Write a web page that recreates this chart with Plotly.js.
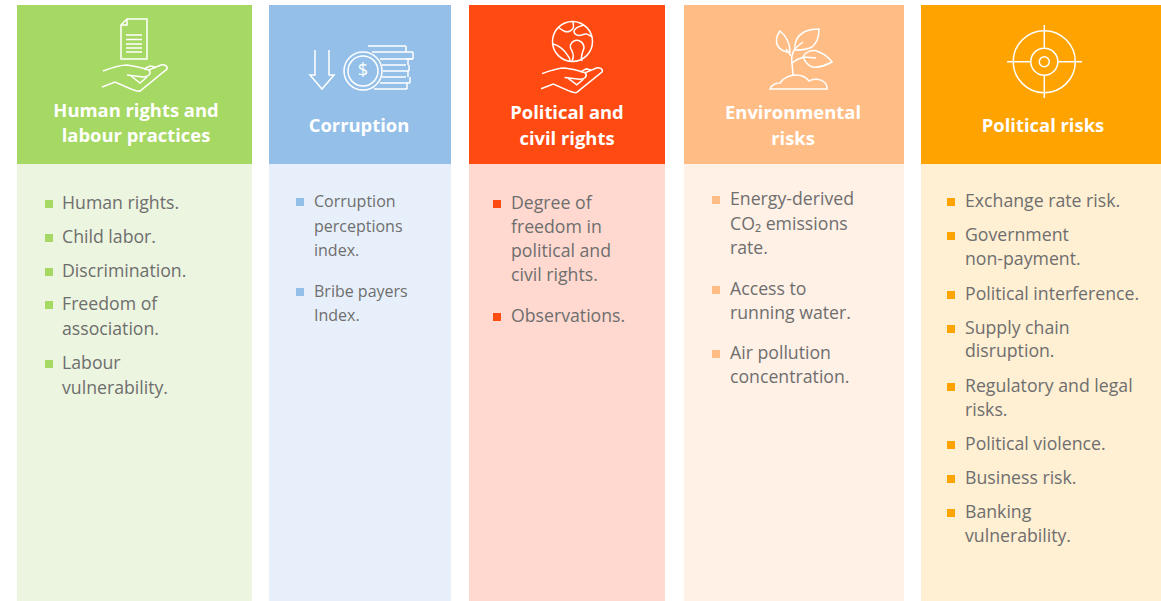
<!DOCTYPE html>
<html><head><meta charset="utf-8">
<script src="https://cdn.plot.ly/plotly-3.0.1.min.js"></script>
<style>html,body{margin:0;padding:0;background:#fff}#c{width:1161px;height:601px}</style>
</head><body><div id="c"></div>
<script>
// ---- content ----
const categories = [["Human rights and","labour practices"],["Corruption"],["Political and","civil rights"],["Environmental","risks"],["Political risks"]];
const humanRightsItems = [["Human rights."],["Child labor."],["Discrimination."],["Freedom of","association."],["Labour","vulnerability."]];
const corruptionItems = [["Corruption","perceptions","index."],["Bribe payers","Index."]];
const civilRightsItems = [["Degree of","freedom in","political and","civil rights."],["Observations."]];
const environmentItems = [["Energy-derived","CO₂ emissions","rate."],["Access to","running water."],["Air pollution","concentration."]];
const politicalRiskItems = [["Exchange rate risk."],["Government","non-payment."],["Political interference."],["Supply chain","disruption."],["Regulatory and legal","risks."],["Political violence."],["Business risk."],["Banking","vulnerability."]];
const allItems = [humanRightsItems,corruptionItems,civilRightsItems,environmentItems,politicalRiskItems];

// ---- layout in the picture's pixel scale ----
const colLeft  = [17,269,469,684,921];
const colRight = [252,451,665,904,1161];
const headerTop = 5, headerBottom = 164, bodyBottom = 601;
const headerColors = ["#a6d864","#93bfe9","#ff4b11","#ffbd85","#ffa300"];
const bodyColors   = ["#ecf5df","#e7f0fa","#ffd9cf","#fff1e6","#ffefd3"];
const headerCx = [136,359,567,793,1043];
const headerY  = [[111,136],[126],[113,139],[113,139],[126]];
const bulletX  = [49,300,497,716,951];
const textX    = [62,314,511,730,965];
const textSize = [17.7,16,17.7,17.7,17.7];
const lineY = [
  [203,237,271,304,329,363,388],
  [201,226,250,291,315],
  [203,227,251,275,316],
  [199,224,248,289,313,353,377],
  [201,235,259,294,328,351,386,410,444,478,512,536]
];
const textShift = 1.5, headerShift = 1.5;
const FONT = '"Open Sans", sans-serif';
const centers = colLeft.map((l,i)=>(l+colRight[i])/2);
const widths  = colLeft.map((l,i)=>colRight[i]-l);

const traces = [];
traces.push({type:'bar',x:centers,width:widths,base:colLeft.map(()=>headerBottom),
  y:colLeft.map(()=>bodyBottom-headerBottom),marker:{color:bodyColors,line:{width:0}},hoverinfo:'skip'});
traces.push({type:'bar',x:centers,width:widths,base:colLeft.map(()=>headerTop),
  y:colLeft.map(()=>headerBottom-headerTop),marker:{color:headerColors,line:{width:0}},hoverinfo:'skip'});

// headers
categories.forEach((lines,i)=>traces.push({type:'scatter',mode:'text',x:lines.map(()=>headerCx[i]),y:headerY[i].map(v=>v+headerShift),
  text:lines.map(s=>'<b>'+s+'</b>'),textposition:'middle center',
  textfont:{family:FONT,size:18.4,color:'#ffffff'},hoverinfo:'skip'}));

// body items and bullets
allItems.forEach((items,i)=>{
  const ys=[],ts=[],bs=[]; let k=0;
  items.forEach(lines=>{
    bs.push(lineY[i][k]+1);
    lines.forEach(t=>{ts.push(t);ys.push(lineY[i][k]+textShift);k++;});
  });
  traces.push({type:'scatter',mode:'text',x:ys.map(()=>textX[i]),y:ys,text:ts,textposition:'middle right',
    textfont:{family:FONT,size:textSize[i],color:'#6e6e6e'},hoverinfo:'skip'});
  traces.push({type:'scatter',mode:'markers',x:bs.map(()=>bulletX[i]),y:bs,
    marker:{symbol:'square',size:8,color:headerColors[i],line:{width:0}},hoverinfo:'skip'});
});
// the dollar sign on the coin
traces.push({type:'scatter',mode:'text',x:[363],y:[71],text:['$'],textposition:'middle center',
  textfont:{family:FONT,size:18,color:'#ffffff'},hoverinfo:'skip'});

// ---- icons ----
const shapes=[];
const line={color:'#ffffff',width:1.5};
const P=d=>shapes.push({type:'path',xref:'x',yref:'y',path:d,line,fillcolor:'rgba(0,0,0,0)'});
const C=(cx,cy,r)=>shapes.push({type:'circle',xref:'x',yref:'y',x0:cx-r,x1:cx+r,y0:cy-r,y1:cy+r,line,fillcolor:'rgba(0,0,0,0)'});
function hand(ox,oy,s){
  const p=(x,y)=>(ox+x*s).toFixed(1)+','+(oy+y*s).toFixed(1);
  P(`M${p(0,6)} C${p(8,3)} ${p(16,0)} ${p(24,0)} C${p(32,1)} ${p(40,3)} ${p(46,5)} L${p(58,0)} C${p(61,-1)} ${p(65,1)} ${p(64,4)} L${p(37,26)} C${p(35,27)} ${p(33,26)} ${p(28,24)} L${p(12,17)} L${p(-1,22)}`);
  P(`M${p(46,5)} C${p(49,9)} ${p(45,12)} ${p(40,12)} L${p(24,10)}`);
  P(`M${p(52,2)} L${p(47,1)} L${p(41,4)}`);
  P(`M${p(44,12)} L${p(37,18)} L${p(28,11)}`);
}
// document in a hand
P('M121,25 L127,19 L147,19 L147,59 L121,59 Z');
P('M121,25 L127,25 L127,19');
[35,39.5,44,48,52].forEach(y=>P(`M126,${y} H142`));
hand(103,65,1);
// arrows + coins
P('M315,50 V75 H310 L322,89 L334,75 H329 V50');
C(363,71,19); C(363,71,15);
[[368,46,406],[372,52,406],[380,59,413],[382,65,406],[383,71,409],[382,77,406],[380,83,410],[374,89,407]].forEach(a=>P(`M${a[0]},${a[1]} H${a[2]}`));
P('M406,46 V52 M413,52 V59 M408,59 V65 M409,65 V71 M408,71 V77 M410,77 V83 M407,83 V89');
P('M406,52 H413 M406,59 H413');
// globe in a hand
C(572.5,41.5,20);
P('M558,27 C563,31 566,33 570,31 C574,29 574,27 573,22');
P('M553,44 C558,45 565,50 568,56 C570,58 570,60 570,61');
P('M582,61 C580,56 583,52 584,48 C584,42 578,39 574,41 C570,43 569,47 572,51 C574,55 573,59 572,61');
P('M592,37 C588,34 586,33 582,35 C578,36 574,35 574,31 C575,27 580,26 584,25');
hand(542,68,0.94);
// plant
P('M793,76 C793,68 791,62 792,56 C793,50 795,48 803,42');
P('M791,56 C789,53 788,51 786,49');
P('M792,63 C796,60 800,58 804,57 L816,58');
P('M780,31 C775,38 775,46 782,50 C786,52 788,53 790,52 C790,44 786,36 780,31 Z');
P('M795,50 C794,41 797,36 804,32 C810,29 815,29 819,29 C819,36 817,43 812,47 C807,50 800,50 795,50 Z');
P('M803,57 C806,51 813,49 819,52 C824,54 829,58 832,62 C826,65 820,68 813,67 C808,66 805,62 803,57 Z');
P('M770,89 C771,85 776,83 780,83 C783,78 790,75 796,75 C802,75 806,77 809,81 C813,78 821,79 824,82 C827,84 827,87 827,89 Z');
// target
C(1044.3,61.7,31); C(1044.3,61.7,13.5); C(1044.3,61.7,5);
P('M1007,61.7 H1031 M1058,61.7 H1082 M1044.3,25 V48 M1044.3,75 V98');

const layout={
  width:1161,height:601,margin:{l:0,r:0,t:0,b:0},autosize:false,showlegend:false,
  barmode:'overlay',paper_bgcolor:'#ffffff',plot_bgcolor:'#ffffff',shapes,
  xaxis:{range:[0,1161],visible:false,fixedrange:true},
  yaxis:{range:[601,0],visible:false,fixedrange:true}
};
Plotly.newPlot('c',traces,layout,{displayModeBar:false,staticPlot:true});
</script></body></html>
